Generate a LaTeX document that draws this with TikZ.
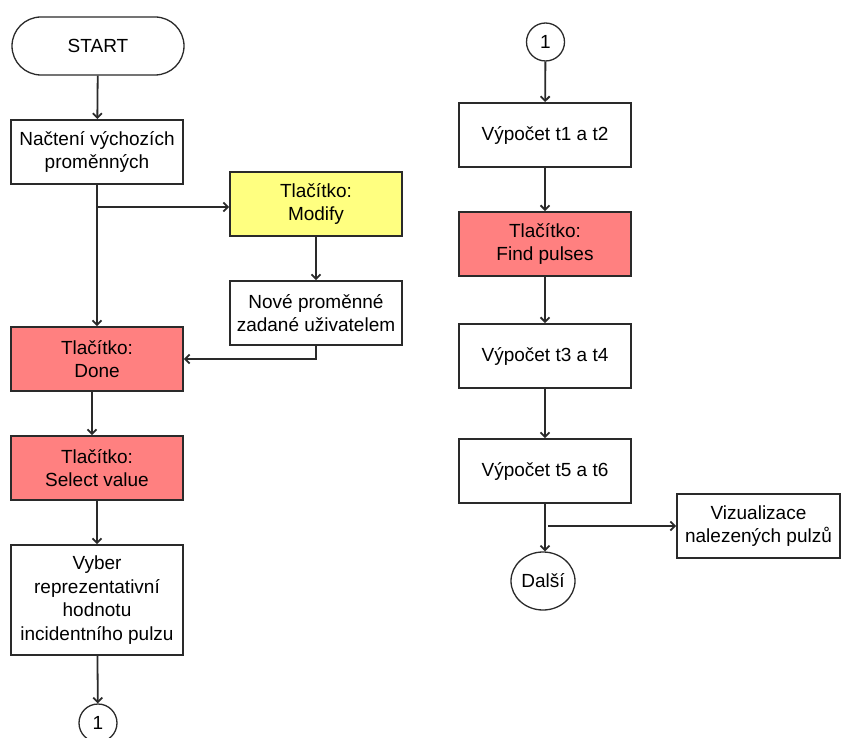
\documentclass[tikz,border=0pt]{standalone}
\usepackage{fontspec}
\setmainfont{Liberation Sans}
\usetikzlibrary{arrows.meta,shapes.geometric}
\definecolor{btnred}{HTML}{FF8080}
\definecolor{btnyellow}{HTML}{FFFF80}
\definecolor{edge}{HTML}{2A2A2A}
\begin{document}
\begin{tikzpicture}[x=1pt,y=-1pt,
  txt/.style={font=\fontsize{19}{23.5}\selectfont,align=center},
  box/.style={txt,draw=edge,line width=1.9pt,minimum width=172pt,minimum height=64pt,inner sep=2pt},
  redbox/.style={box,fill=btnred},
  yellowbox/.style={box,fill=btnyellow},
  terminal/.style={txt,draw=edge,line width=1.3pt,rounded corners=29pt,minimum width=172pt,minimum height=58pt},
  connector/.style={txt,draw=edge,line width=1.3pt,circle,minimum size=38pt,inner sep=0pt},
  exitnode/.style={txt,draw=edge,line width=1.3pt,ellipse,minimum width=64pt,minimum height=58pt,inner sep=0pt},
  flow/.style={draw=edge,line width=1.8pt,-{Straight Barb[length=4.5pt,width=9pt,line width=1.8pt]}}
]
\useasboundingbox (0,0) rectangle (841,738);

% left column
\node[terminal] (start) at (98,46) {START};
\node[box] (init) at (97,152) {Načtení výchozích\\proměnných};
\node[yellowbox] (modify) at (316,204) {Tlačítko:\\Modify};
\node[box] (newvars) at (316,313) {Nové proměnné\\zadané uživatelem};
\node[redbox] (done) at (97,359) {Tlačítko:\\Done};
\node[redbox] (select) at (97,468) {Tlačítko:\\Select value};
\node[box,minimum height=110pt] (pick) at (97,600) {Vyber\\reprezentativní\\hodnotu\\incidentního pulzu};
\node[connector] (offA) at (98,723) {1};

% right column
\node[connector] (onA) at (545.5,42) {1};
\node[box] (t12) at (545,135) {Výpočet t1 a t2};
\node[redbox] (find) at (545,244) {Tlačítko:\\Find pulses};
\node[box] (t34) at (545,356) {Výpočet t3 a t4};
\node[box] (t56) at (545,471) {Výpočet t5 a t6};
\node[box,minimum width=163pt] (viz) at (758.5,526) {Vizualizace\\nalezených pulzů};
\node[exitnode] (next) at (543,581) {Další};

% branch points
\coordinate (splitL) at (97,207);
\coordinate (splitR) at (548,526);

% connectors
\draw[flow] (start) -- (init);
\draw[flow] (init) -- (done);
\draw[flow] (splitL) -- (splitL -| modify.west);
\draw[flow] (modify) -- (newvars);
\draw[flow] (newvars.south) |- (done.east);
\draw[flow] ([xshift=-5pt]done.south) -- ([xshift=-5pt]select.north);
\draw[flow] (select) -- (pick);
\draw[flow] (pick) -- (offA);

\draw[flow] (onA) -- (t12);
\draw[flow] (t12) -- (find);
\draw[flow] (find) -- (t34);
\draw[flow] (t34) -- (t56);
\draw[flow] (t56.south) -- (t56.south |- next.north);
\draw[flow] (splitR) -- (viz.west);
\end{tikzpicture}
\end{document}
